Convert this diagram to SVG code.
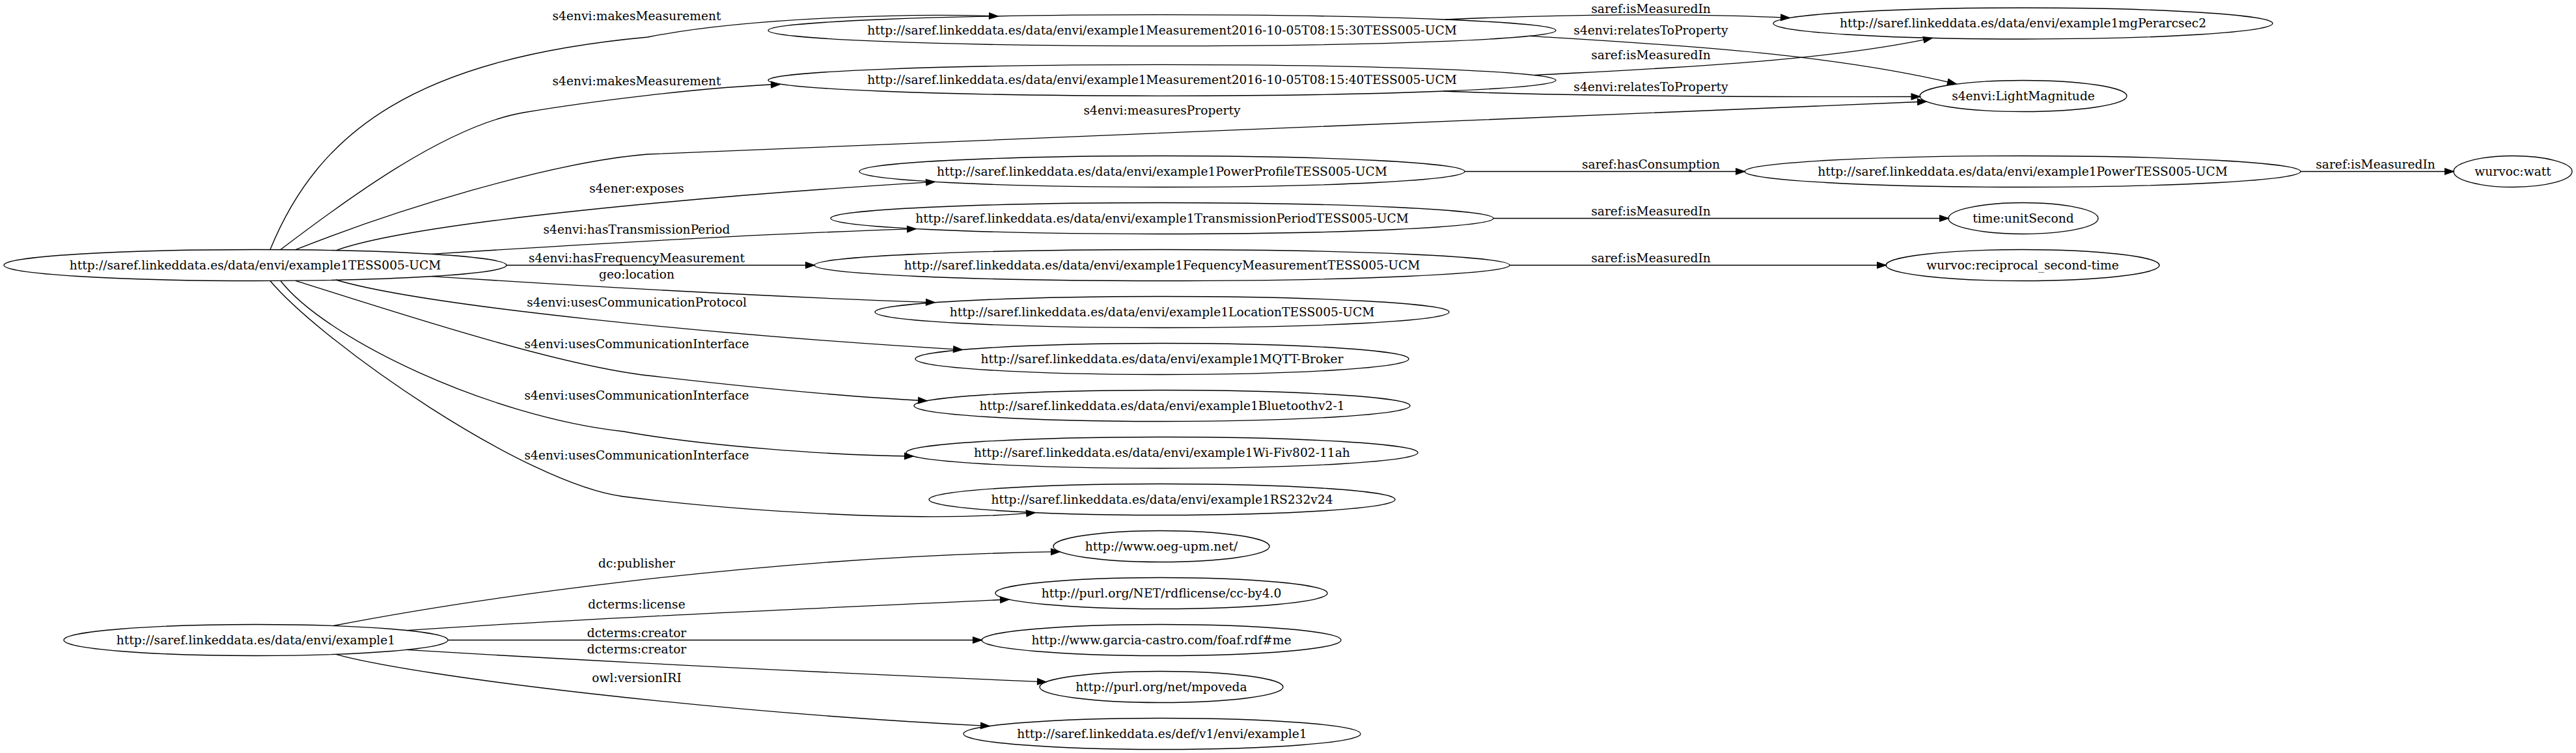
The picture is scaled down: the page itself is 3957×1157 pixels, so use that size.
<svg xmlns="http://www.w3.org/2000/svg" width="3957" height="1157" viewBox="0 0 3957 1157">
<style>
.n ellipse{fill:none;stroke:#000;stroke-width:1.33}
text{font-family:"DejaVu Serif",serif;font-size:18.67px;text-anchor:middle;fill:#000}
.e path{fill:none;stroke:#000;stroke-width:1.33;marker-end:url(#ah)}
</style>
<defs>
<marker id="ah" markerWidth="16" markerHeight="12" refX="13.33" refY="4.67" orient="auto" markerUnits="userSpaceOnUse" overflow="visible">
<path d="M0,0 L13.33,4.67 L0,9.33 z" fill="#000" stroke="#000" stroke-width="1.33"/>
</marker>
</defs>
<rect width="3957" height="1157" fill="#fff"/>
<g id="edges" class="e">
<path d="M415,383.5 C490,200 640,90 995,57 C1145,27 1400,20 1533,25"/>
<path d="M431,383.5 C531,307.5 684,194 804,173 C904,156 1080,134 1198,129.5"/>
<path d="M454,383.7 C604,324 845,249 995,237 C1500,215 2200,185 2959,156"/>
<path d="M516,384.8 C640,340 1100,300 1436,279.4"/>
<path d="M663,390.4 C900,375 1150,360 1407,351.6"/>
<path d="M778,407.5 L1251,407.5"/>
<path d="M663,424.6 C900,440 1150,455 1436,464.8"/>
<path d="M516,430 C650,470 1100,515 1478,537.4"/>
<path d="M454,431.3 C600,477 850,560 995,577 C1150,595 1300,610 1424,615.8"/>
<path d="M431,431.5 C500,520 750,640 958,663 C1080,685 1280,700 1403,701"/>
<path d="M415,431.5 C497,528.5 808,744.25 958,763 C1108,782 1400,805 1590,787.6"/>
<path d="M2220,30 C2400,22 2600,20 2749,27.5"/>
<path d="M2350,55.3 C2550,68 2800,80 3005,129"/>
<path d="M2357,115.5 C2550,105 2800,95 2968,58.4"/>
<path d="M2217,140 C2400,148 2700,149 2949.5,148.5"/>
<path d="M2250,263.5 L2680,263.5"/>
<path d="M3534,263.5 L3769,263.5"/>
<path d="M2294,335.5 L2993,335.5"/>
<path d="M2319,407.5 L2897,407.5"/>
<path d="M512,961.5 C700,925 1150,855 1628,847.7"/>
<path d="M624,968.6 C900,950 1250,935 1550,921"/>
<path d="M688,983.5 L1508,983.5"/>
<path d="M624,998.4 C900,1015 1250,1033 1607,1047.8"/>
<path d="M516,1005.3 C640,1040 1100,1095 1520,1115.6"/>
<text x="978" y="31">s4envi:makesMeasurement</text>
<text x="978" y="131">s4envi:makesMeasurement</text>
<text x="1785" y="176">s4envi:measuresProperty</text>
<text x="978" y="296">s4ener:exposes</text>
<text x="978" y="359">s4envi:hasTransmissionPeriod</text>
<text x="978" y="403">s4envi:hasFrequencyMeasurement</text>
<text x="978" y="428">geo:location</text>
<text x="978" y="471">s4envi:usesCommunicationProtocol</text>
<text x="978" y="535">s4envi:usesCommunicationInterface</text>
<text x="978" y="614">s4envi:usesCommunicationInterface</text>
<text x="978" y="706">s4envi:usesCommunicationInterface</text>
<text x="2536" y="20">saref:isMeasuredIn</text>
<text x="2536" y="53">s4envi:relatesToProperty</text>
<text x="2536" y="91">saref:isMeasuredIn</text>
<text x="2536" y="140">s4envi:relatesToProperty</text>
<text x="2536" y="259">saref:hasConsumption</text>
<text x="3649" y="259">saref:isMeasuredIn</text>
<text x="2536" y="331">saref:isMeasuredIn</text>
<text x="2536" y="403">saref:isMeasuredIn</text>
<text x="978" y="872">dc:publisher</text>
<text x="978" y="935">dcterms:license</text>
<text x="978" y="979">dcterms:creator</text>
<text x="978" y="1004">dcterms:creator</text>
<text x="978" y="1048">owl:versionIRI</text>
</g>
<g id="n1" class="n"><ellipse cx="392" cy="407.5" rx="386" ry="24"/><text x="392" y="413.5">http://saref.linkeddata.es/data/envi/example1TESS005-UCM</text></g>
<g id="n2" class="n"><ellipse cx="1785" cy="46.7" rx="605" ry="24"/><text x="1785" y="52.7">http://saref.linkeddata.es/data/envi/example1Measurement2016-10-05T08:15:30TESS005-UCM</text></g>
<g id="n3" class="n"><ellipse cx="1785" cy="123.3" rx="605" ry="24"/><text x="1785" y="129.3">http://saref.linkeddata.es/data/envi/example1Measurement2016-10-05T08:15:40TESS005-UCM</text></g>
<g id="n4" class="n"><ellipse cx="3107.5" cy="36" rx="383.5" ry="24"/><text x="3107.5" y="42">http://saref.linkeddata.es/data/envi/example1mgPerarcsec2</text></g>
<g id="n5" class="n"><ellipse cx="3108" cy="147.5" rx="159" ry="24"/><text x="3108" y="153.5">s4envi:LightMagnitude</text></g>
<g id="n6" class="n"><ellipse cx="1785" cy="263.5" rx="465" ry="24"/><text x="1785" y="269.5">http://saref.linkeddata.es/data/envi/example1PowerProfileTESS005-UCM</text></g>
<g id="n7" class="n"><ellipse cx="3107" cy="263.5" rx="427" ry="24"/><text x="3107" y="269.5">http://saref.linkeddata.es/data/envi/example1PowerTESS005-UCM</text></g>
<g id="n8" class="n"><ellipse cx="3860" cy="263.5" rx="91" ry="24"/><text x="3860" y="269.5">wurvoc:watt</text></g>
<g id="n9" class="n"><ellipse cx="1785" cy="335.5" rx="509" ry="24"/><text x="1785" y="341.5">http://saref.linkeddata.es/data/envi/example1TransmissionPeriodTESS005-UCM</text></g>
<g id="n10" class="n"><ellipse cx="3108" cy="335.5" rx="115" ry="24"/><text x="3108" y="341.5">time:unitSecond</text></g>
<g id="n11" class="n"><ellipse cx="1785" cy="407.5" rx="534" ry="24"/><text x="1785" y="413.5">http://saref.linkeddata.es/data/envi/example1FequencyMeasurementTESS005-UCM</text></g>
<g id="n12" class="n"><ellipse cx="3107" cy="407.5" rx="210" ry="24"/><text x="3107" y="413.5">wurvoc:reciprocal_second-time</text></g>
<g id="n13" class="n"><ellipse cx="1785" cy="479.5" rx="441" ry="24"/><text x="1785" y="485.5">http://saref.linkeddata.es/data/envi/example1LocationTESS005-UCM</text></g>
<g id="n14" class="n"><ellipse cx="1785" cy="551.5" rx="379" ry="24"/><text x="1785" y="557.5">http://saref.linkeddata.es/data/envi/example1MQTT-Broker</text></g>
<g id="n15" class="n"><ellipse cx="1785" cy="623.5" rx="381" ry="24"/><text x="1785" y="629.5">http://saref.linkeddata.es/data/envi/example1Bluetoothv2-1</text></g>
<g id="n16" class="n"><ellipse cx="1785" cy="695.5" rx="393" ry="24"/><text x="1785" y="701.5">http://saref.linkeddata.es/data/envi/example1Wi-Fiv802-11ah</text></g>
<g id="n17" class="n"><ellipse cx="1785" cy="767.5" rx="358" ry="24"/><text x="1785" y="773.5">http://saref.linkeddata.es/data/envi/example1RS232v24</text></g>
<g id="n18" class="n"><ellipse cx="393" cy="983.5" rx="295" ry="24"/><text x="393" y="989.5">http://saref.linkeddata.es/data/envi/example1</text></g>
<g id="n19" class="n"><ellipse cx="1784" cy="839.5" rx="166" ry="24"/><text x="1784" y="845.5">http://www.oeg-upm.net/</text></g>
<g id="n20" class="n"><ellipse cx="1784" cy="911.5" rx="255" ry="24"/><text x="1784" y="917.5">http://purl.org/NET/rdflicense/cc-by4.0</text></g>
<g id="n21" class="n"><ellipse cx="1784" cy="983.5" rx="276" ry="24"/><text x="1784" y="989.5">http://www.garcia-castro.com/foaf.rdf#me</text></g>
<g id="n22" class="n"><ellipse cx="1784" cy="1055.5" rx="187" ry="24"/><text x="1784" y="1061.5">http://purl.org/net/mpoveda</text></g>
<g id="n23" class="n"><ellipse cx="1785" cy="1127.5" rx="305" ry="24"/><text x="1785" y="1133.5">http://saref.linkeddata.es/def/v1/envi/example1</text></g>
</svg>
